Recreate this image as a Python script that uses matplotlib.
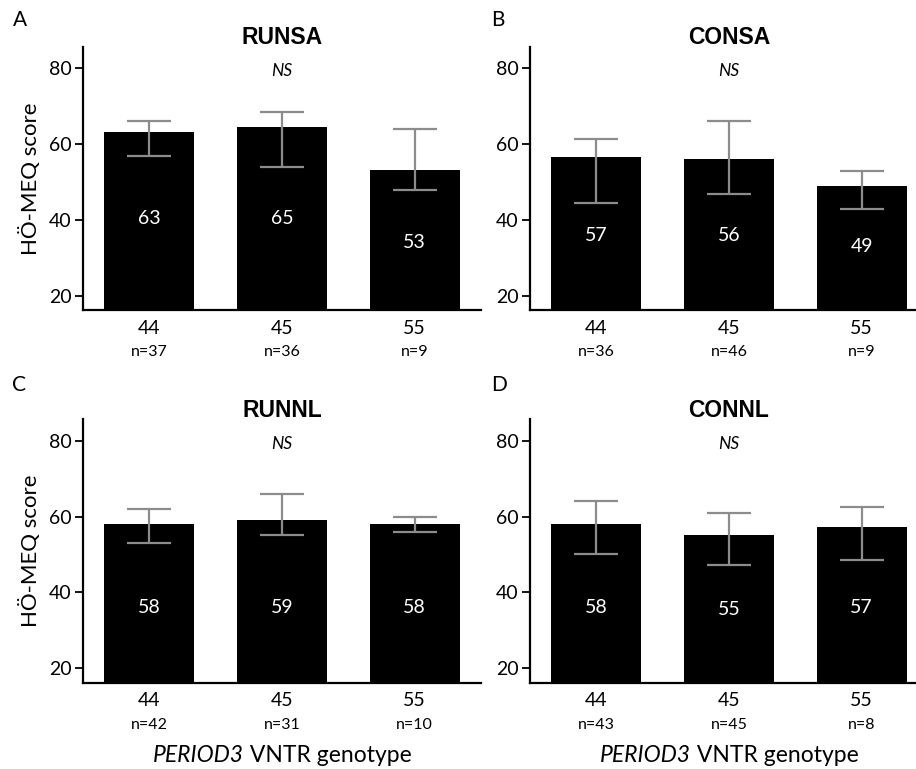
import matplotlib
matplotlib.use("Agg")
import matplotlib.pyplot as plt
import numpy as np

genotypes = ["44", "45", "55"]
panel_letters = ["A", "B", "C", "D"]
panel_titles = ["RUNSA", "CONSA", "RUNNL", "CONNL"]

runsa_mean = [63.0, 64.5, 53.1]
runsa_low = [56.8, 53.9, 47.9]
runsa_high = [65.9, 68.3, 64.0]
runsa_n = [37, 36, 9]
runsa_lbl = ["63", "65", "53"]

consa_mean = [56.6, 56.0, 49.0]
consa_low = [44.5, 46.9, 42.9]
consa_high = [61.4, 65.9, 52.9]
consa_n = [36, 46, 9]
consa_lbl = ["57", "56", "49"]

runnl_mean = [58.1, 59.2, 58.1]
runnl_low = [53.1, 55.0, 56.0]
runnl_high = [62.1, 66.0, 60.0]
runnl_n = [42, 31, 10]
runnl_lbl = ["58", "59", "58"]

connl_mean = [58.1, 55.2, 57.2]
connl_low = [50.1, 47.1, 48.6]
connl_high = [64.1, 61.0, 62.6]
connl_n = [43, 45, 8]
connl_lbl = ["58", "55", "57"]

# vertical position (data units) of the white value labels
runsa_lblpos = [40.4, 40.4, 34.1]
consa_lblpos = [35.9, 35.9, 33.0]
runnl_lblpos = [35.9, 35.9, 35.9]
connl_lblpos = [35.9, 35.5, 35.9]

xlabel_italic = "PERIOD3"
xlabel_rest = " VNTR genotype"

panels = [
    (runsa_mean, runsa_low, runsa_high, runsa_n, runsa_lbl, runsa_lblpos),
    (consa_mean, consa_low, consa_high, consa_n, consa_lbl, consa_lblpos),
    (runnl_mean, runnl_low, runnl_high, runnl_n, runnl_lbl, runnl_lblpos),
    (connl_mean, connl_low, connl_high, connl_n, connl_lbl, connl_lblpos),
]

W, H = 916, 769
plt.rcParams['font.family'] = ['Lato', 'DejaVu Sans']
fig = plt.figure(figsize=(W / 100, H / 100), dpi=100)

ax_w = 398 / W
ax_h = (310 - 46.7) / H
lefts = [83 / W, 530 / W, 83 / W, 530 / W]
bottoms = [1 - 310 / H, 1 - 310 / H, 1 - 682.7 / H, 1 - 682.7 / H]
letter_xy = [(20, 20), (498, 20), (19, 385), (499, 385)]

xl_parts = []
for i, (mean, low, high, ns, lbls, lpos) in enumerate(panels):
    ax = fig.add_axes([lefts[i], bottoms[i], ax_w, ax_h])
    x = np.arange(len(genotypes))
    mean = np.array(mean)
    yerr = [mean - np.array(low), np.array(high) - mean]
    ax.bar(x, mean, width=0.68, color="black", bottom=0, zorder=2)
    ax.errorbar(x, mean, yerr=yerr, fmt="none", ecolor="#8c8c8c",
                elinewidth=1.6, capsize=15.5, capthick=1.6, zorder=3)
    for xi, t, yp in zip(x, lbls, lpos):
        ax.text(xi, yp, t, color="white", ha="center", va="center",
                fontsize=14, zorder=4)
    ax.set_xlim(-0.5, 2.5)
    ax.set_ylim(16.2, 85.6)
    ax.set_yticks([20, 40, 60, 80])
    ax.set_xticks(x)
    ax.set_xticklabels(genotypes, fontsize=14)
    ax.tick_params(axis="x", length=0, pad=7)
    ax.tick_params(axis="y", length=6, width=1.3, labelsize=14, pad=2)
    for s in ["top", "right"]:
        ax.spines[s].set_visible(False)
    for s in ["left", "bottom"]:
        ax.spines[s].set_linewidth(1.6)
    for xi, n in zip(x, ns):
        ax.annotate(f"n={n}", xy=(xi, 0), xycoords=("data", "axes fraction"),
                    xytext=(0, -42.5), textcoords="offset pixels",
                    ha="center", va="center", fontsize=11.5)
    ax.annotate(panel_titles[i], xy=(0.5, 1.0), xycoords="axes fraction",
                xytext=(0, 9), textcoords="offset pixels",
                ha="center", va="center",
                fontsize=16.5, fontweight="bold", family="Liberation Sans")
    ax.text(1, 79.2, "NS", ha="center", va="center", fontsize=12.5,
            style="italic")
    if i % 2 == 0:
        ax.set_ylabel("HÖ-MEQ score", fontsize=16, labelpad=6)
    if i >= 2:
        t1 = ax.annotate(xlabel_italic, xy=(0.5, 0), xycoords="axes fraction",
                         xytext=(0, -73), textcoords="offset pixels",
                         ha="left", va="center", fontsize=16.5,
                         style="italic")
        t2 = ax.annotate(xlabel_rest, xy=(0.5, 0), xycoords="axes fraction",
                         xytext=(0, -73), textcoords="offset pixels",
                         ha="left", va="center", fontsize=16.5)
        xl_parts.append((t1, t2))
    lx, ly = letter_xy[i]
    fig.text(lx / W, 1 - ly / H, panel_letters[i], ha="center", va="center",
             fontsize=15)

fig.canvas.draw()
r = fig.canvas.get_renderer()
for t1, t2 in xl_parts:
    w1 = t1.get_window_extent(r).width
    w2 = t2.get_window_extent(r).width
    tot = w1 + w2
    t1.set_position((-tot / 2, -73))
    t2.set_position((-tot / 2 + w1, -73))

fig.savefig("out.png", dpi=100)
